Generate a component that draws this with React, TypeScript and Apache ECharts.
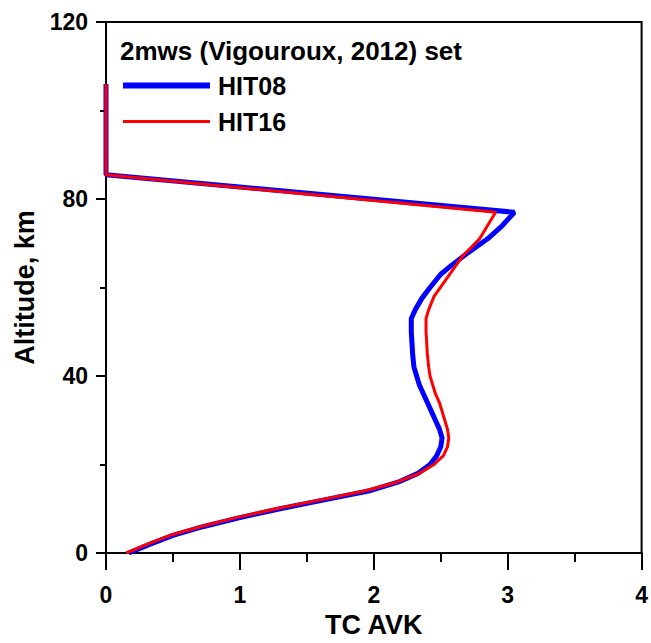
import React, { useEffect, useRef } from "react";
import * as echarts from "echarts";

const altitudes08 = [0, 2, 4, 6, 8, 10, 12, 14, 16, 18, 20, 22, 24, 26, 28, 30, 32, 34, 36, 38, 40, 42, 45, 50, 53, 55, 57.6, 60, 63, 65, 68, 71, 74, 77, 85.5, 106];
const avk08 = [0.17, 0.33, 0.5, 0.73, 1.0, 1.3, 1.63, 1.96, 2.18, 2.33, 2.42, 2.47, 2.5, 2.51, 2.49, 2.46, 2.43, 2.4, 2.37, 2.34, 2.32, 2.3, 2.29, 2.28, 2.28, 2.31, 2.36, 2.42, 2.5, 2.58, 2.71, 2.85, 2.96, 3.05, 0.0, 0.0];

const altitudes16 = [0, 2, 4, 6, 8, 10, 12, 14, 16, 18, 20, 22, 24, 26, 28, 30, 32, 34, 36, 38, 40, 42, 45, 50, 53, 55, 58, 61, 64, 67, 71, 74, 77, 85.5, 106];
const avk16 = [0.15, 0.31, 0.48, 0.71, 0.97, 1.27, 1.6, 1.93, 2.17, 2.34, 2.45, 2.52, 2.55, 2.56, 2.55, 2.53, 2.51, 2.49, 2.46, 2.44, 2.42, 2.41, 2.4, 2.39, 2.39, 2.41, 2.45, 2.52, 2.59, 2.66, 2.79, 2.85, 2.91, 0.0, 0.0];

const seriesNames = ["HIT08", "HIT16"];
const legendTitle = "2mws (Vigouroux, 2012) set";
const xAxisName = "TC AVK";
const yAxisName = "Altitude, km";

const FONT = "'Liberation Sans', Arial, sans-serif";

export default function App() {
  const ref = useRef<HTMLDivElement>(null);
  useEffect(() => {
    if (!ref.current) return;
    const chart = echarts.init(ref.current, null, { renderer: "svg" });
    const d08 = altitudes08.map((a, i) => [avk08[i], a]);
    const d16 = altitudes16.map((a, i) => [avk16[i], a]);
    chart.setOption({
      animation: false,
      backgroundColor: "#fff",
      textStyle: { fontFamily: FONT },
      grid: {
        left: 106,
        top: 22,
        right: 8,
        bottom: 86,
        show: true,
        borderColor: "#000",
        borderWidth: 2,
        containLabel: false,
      },
      graphic: [
        {
          type: "text",
          left: 120,
          top: 38,
          style: {
            text: legendTitle,
            fontFamily: FONT,
            fontWeight: "bold",
            fontSize: 26,
            fill: "#000",
          },
        },
      ],
      legend: {
        show: true,
        orient: "vertical",
        left: 120,
        top: 73,
        padding: 0,
        itemWidth: 87,
        itemHeight: 14,
        itemGap: 11,
        itemStyle: { opacity: 0 },
        data: [
          { name: seriesNames[0], lineStyle: { width: 6, color: "#0000ff" } },
          { name: seriesNames[1], lineStyle: { width: 3, color: "#ff0000" } },
        ],
        textStyle: {
          fontFamily: FONT,
          fontWeight: "bold",
          fontSize: 25,
          color: "#000",
          padding: [0, 0, 0, 3],
        },
      },
      xAxis: {
        type: "value",
        min: 0,
        max: 4,
        interval: 1,
        name: xAxisName,
        nameLocation: "middle",
        nameGap: 58,
        nameTextStyle: { fontFamily: FONT, fontWeight: "bold", fontSize: 27, color: "#000" },
        axisLine: { show: true, lineStyle: { color: "#000", width: 2 } },
        axisTick: { show: true, inside: false, length: 17, lineStyle: { color: "#000", width: 2 } },
        minorTick: { show: true, splitNumber: 2, length: 9, lineStyle: { color: "#000", width: 2 } },
        splitLine: { show: false },
        axisLabel: { margin: 30, fontFamily: FONT, fontWeight: "bold", fontSize: 23, color: "#000" },
      },
      yAxis: {
        type: "value",
        min: 0,
        max: 120,
        interval: 40,
        name: yAxisName,
        nameLocation: "middle",
        nameGap: 67,
        nameRotate: 90,
        nameTextStyle: { fontFamily: FONT, fontWeight: "bold", fontSize: 27, color: "#000" },
        axisLine: { show: true, lineStyle: { color: "#000", width: 2 } },
        axisTick: { show: true, inside: false, length: 10, lineStyle: { color: "#000", width: 2 } },
        minorTick: { show: true, splitNumber: 2, length: 6, lineStyle: { color: "#000", width: 2 } },
        splitLine: { show: false },
        axisLabel: { margin: 18, fontFamily: FONT, fontWeight: "bold", fontSize: 23, color: "#000" },
      },
      series: [
        {
          name: seriesNames[0],
          type: "line",
          data: d08,
          showSymbol: false,
          symbol: "none",
          smooth: false,
          color: "#0000ff",
          lineStyle: { color: "#0000ff", width: 5 },
          z: 2,
        },
        {
          name: seriesNames[1],
          type: "line",
          data: d16,
          showSymbol: false,
          symbol: "none",
          smooth: false,
          color: "#ff0000",
          lineStyle: { color: "#ff0000", width: 3 },
          z: 3,
        },
      ],
    });
    return () => chart.dispose();
  }, []);
  return (
    <div
      ref={ref}
      style={{ position: "absolute", left: 0, top: 0, width: 651, height: 643 }}
    />
  );
}
